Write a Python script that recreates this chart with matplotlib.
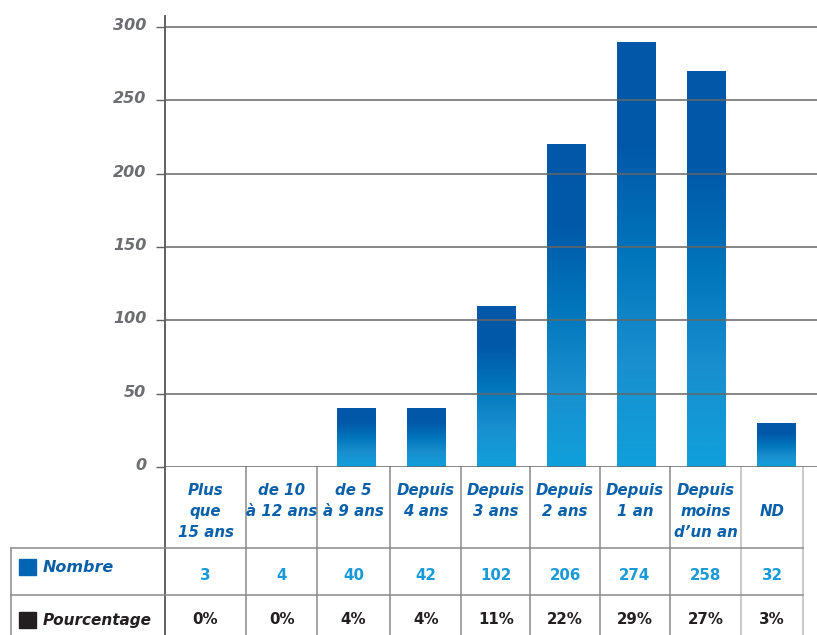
import numpy as np
import matplotlib.pyplot as plt
from matplotlib.colors import LinearSegmentedColormap
from matplotlib.transforms import blended_transform_factory, ScaledTranslation
from matplotlib.patches import Rectangle

categories = ["Plus\nque\n15 ans", "de 10\nà 12 ans", "de 5\nà 9 ans", "Depuis\n4 ans",
              "Depuis\n3 ans", "Depuis\n2 ans", "Depuis\n1 an", "Depuis\nmoins\nd’un an", "ND"]
bar_heights = [0, 0, 40, 40, 110, 220, 290, 270, 30]
nombre = [3, 4, 40, 42, 102, 206, 274, 258, 32]
pourcentage = ["0%", "0%", "4%", "4%", "11%", "22%", "29%", "27%", "3%"]
yticks = [0, 50, 100, 150, 200, 250, 300]

W, H = 817, 635
FONT = "DejaVu Sans"
BLUE_HDR = "#0b60aa"
BLUE_VAL = "#1a9ad7"
GREY = "#6d6e71"
LINE = "#8a8a8a"

fig = plt.figure(figsize=(W / 100, H / 100), dpi=100)
ax = fig.add_axes([165 / W, 1 - 467 / H, 1 - 165 / W, (467 - 16) / H])

# gradient bars
cmap = LinearSegmentedColormap.from_list(
    "bar", [(0, "#0257a8"), (0.25, "#0259a9"), (0.5, "#0075bb"),
            (0.75, "#1a8fcf"), (1, "#10a0db")])
grad = np.linspace(0, 1, 256).reshape(-1, 1)
x = np.arange(len(categories))
bars = ax.bar(x, bar_heights, width=0.557, color="none", edgecolor="none")
for b in bars:
    if b.get_height() <= 0:
        continue
    x0, y0 = b.get_x(), b.get_y()
    im = ax.imshow(grad, cmap=cmap, extent=[x0, x0 + b.get_width(), y0, y0 + b.get_height()],
                   aspect="auto", zorder=1, interpolation="bilinear")
    im.set_clip_path(b)

ax.set_xlim(-0.736, 8.58)
ax.set_ylim(0, 300 * 451 / 440)

ax.set_yticks(yticks)
ax.set_yticklabels([str(t) for t in yticks], fontsize=11.5, fontweight="bold",
                   style="italic", color=GREY, family=FONT)
ax.yaxis.grid(True, color="#666666", lw=1.1)
ax.set_axisbelow(False)
ax.tick_params(axis="y", length=6.5, width=1, color="#606060", pad=7)
ax.set_xticks([])
for lab in ax.get_yticklabels():
    lab.set_transform(lab.get_transform() + ScaledTranslation(0, 3 / 100, fig.dpi_scale_trans))
for s in ["top", "right", "bottom"]:
    ax.spines[s].set_visible(False)
ax.spines["left"].set_color("#555555")
ax.spines["left"].set_linewidth(1.3)

# table below the chart
trans = blended_transform_factory(ax.transData, fig.transFigure)
fy = lambda py: 1 - py / H
fx = lambda px: px / W
edges = [-0.736, 0.42, 1.44, 2.48, 3.5, 4.48, 5.48, 6.48, 7.5, 8.38]
centers = [(edges[i] + edges[i + 1]) / 2 for i in range(len(categories))]

# axis line continues down through the table
ax.plot([edges[0], edges[0]], [fy(467), fy(635)], transform=trans, color="#555555",
        lw=1.3, clip_on=False)
for i, e in enumerate(edges[1:]):
    c = "#bbbbbb" if i >= len(edges) - 3 else LINE
    ax.plot([e, e], [fy(467), fy(635)], transform=trans, color=c, lw=1.1, clip_on=False)
for py in [548, 595]:
    fig.add_artist(plt.Line2D([fx(11), fx(803)], [fy(py), fy(py)], color=LINE, lw=1.1))
fig.add_artist(plt.Line2D([fx(11), fx(11)], [fy(548), fy(635)], color=LINE, lw=1.1))

for cx, lab, n, p in zip(centers, categories, nombre, pourcentage):
    if "\n" in lab:
        ax.text(cx, fy(483), lab, transform=trans, ha="center", va="top", fontsize=10.8,
                fontweight="bold", style="italic", color=BLUE_HDR, family=FONT,
                linespacing=1.5)
    else:
        ax.text(cx, fy(512), lab, transform=trans, ha="center", va="center", fontsize=10.8,
                fontweight="bold", style="italic", color=BLUE_HDR, family=FONT)
    ax.text(cx, fy(575), str(n), transform=trans, ha="center", va="center", fontsize=10.8,
            fontweight="bold", color=BLUE_VAL, family=FONT)
    ax.text(cx, fy(620), p, transform=trans, ha="center", va="center", fontsize=10.8,
            fontweight="bold", color="#231f20", family=FONT)

# row labels with small squares
fig.add_artist(Rectangle((fx(19), fy(575)), 17 / W, 16 / H, color="#0066b3",
                         transform=fig.transFigure))
fig.text(fx(43), fy(567), "Nombre", ha="left", va="center", fontsize=11.5,
         fontweight="bold", style="italic", color=BLUE_HDR, family=FONT)
fig.add_artist(Rectangle((fx(19), fy(628)), 17 / W, 16 / H, color="#231f20",
                         transform=fig.transFigure))
fig.text(fx(43), fy(621), "Pourcentage", ha="left", va="center", fontsize=11,
         fontweight="bold", style="italic", color="#231f20", family=FONT)

fig.savefig("out.png", dpi=100)
